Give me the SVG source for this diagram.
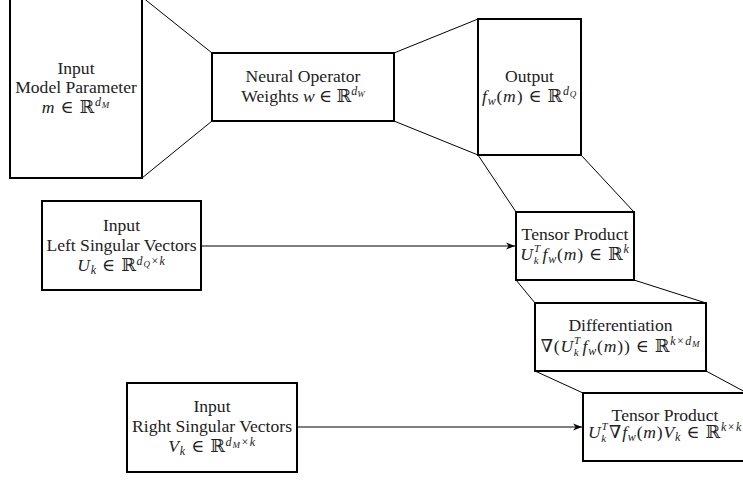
<svg xmlns="http://www.w3.org/2000/svg" width="743" height="481" viewBox="0 0 743 481" font-family="'Liberation Serif', 'DejaVu Serif', serif">
<defs>
<style>
.box{fill:#fff;stroke:#000;stroke-width:2}
.ln{stroke:#000;stroke-width:1;fill:none}
text{font-family:'Liberation Serif','DejaVu Serif',serif;font-size:17.6px;fill:#222;text-anchor:middle}
.m{letter-spacing:0.8px}
.i{font-style:italic}
.s1{font-size:12px;font-style:italic}
.s3{font-size:11px;font-style:italic}
.s2{font-size:9px;font-style:italic}
</style>
<marker id="arr" viewBox="0 0 10 10" refX="10" refY="5" markerWidth="9" markerHeight="9" markerUnits="userSpaceOnUse" orient="auto">
<path d="M0,1 L10,5 L0,9 L3,5 z" fill="#000"/>
</marker>
</defs>
<rect width="743" height="481" fill="#fff"/>
<g id="connectors">
<line class="ln" x1="142" y1="-3" x2="212" y2="53"/>
<line class="ln" x1="142" y1="178" x2="212" y2="121"/>
<line class="ln" x1="394" y1="53" x2="478" y2="19"/>
<line class="ln" x1="394" y1="121" x2="478" y2="155"/>
<line class="ln" x1="478" y1="155" x2="516" y2="212"/>
<line class="ln" x1="581" y1="155" x2="634" y2="212"/>
<line class="ln" x1="516" y1="280" x2="535" y2="303"/>
<line class="ln" x1="634" y1="280" x2="706" y2="303"/>
<line class="ln" x1="535" y1="371" x2="583" y2="393"/>
<line class="ln" x1="706" y1="371" x2="747" y2="393"/>
<line class="ln" x1="201" y1="246" x2="515" y2="246" marker-end="url(#arr)"/>
<line class="ln" x1="297" y1="427" x2="582" y2="427" marker-end="url(#arr)"/>
</g>
<g id="model-parameter">
<rect class="box" x="10" y="-3" width="132" height="181"/>
<text x="76" y="74">Input</text>
<text x="76" y="93">Model Parameter</text>
<text class="m" x="76" y="113"><tspan class="i">m</tspan> ∈ ℝ<tspan class="s1" dy="-7">d</tspan><tspan class="s2" dy="2">M</tspan></text>
</g>
<g id="neural-operator">
<rect class="box" x="212" y="53" width="182" height="68"/>
<text x="303" y="82">Neural Operator</text>
<text x="303" y="102">Weights <tspan class="i">w</tspan> ∈ ℝ<tspan class="s1" dy="-7">d</tspan><tspan class="s2" dy="2">W</tspan></text>
</g>
<g id="output">
<rect class="box" x="478" y="19" width="103" height="136"/>
<text x="529.5" y="82">Output</text>
<text class="m" x="529.5" y="102"><tspan class="i">f</tspan><tspan class="s1" dy="3">w</tspan><tspan dy="-3">(</tspan><tspan class="i">m</tspan>) ∈ ℝ<tspan class="s1" dy="-7">d</tspan><tspan class="s2" dy="2">Q</tspan></text>
</g>
<g id="left-singular">
<rect class="box" x="42" y="201" width="159" height="89"/>
<text x="121.5" y="231">Input</text>
<text x="121.5" y="251">Left Singular Vectors</text>
<text class="m" x="121.5" y="271"><tspan class="i">U</tspan><tspan class="s1" dy="3">k</tspan><tspan dy="-3"> ∈ ℝ</tspan><tspan class="s1" dy="-6">d</tspan><tspan class="s2" dy="2">Q</tspan><tspan class="s1" dy="-2">×</tspan><tspan class="s1">k</tspan></text>
</g>
<g id="tensor-product-1">
<rect class="box" x="516" y="212" width="118" height="68"/>
<text x="575" y="240">Tensor Product</text>
<text class="m" x="575" y="260"><tspan class="i">U</tspan><tspan class="s3" dy="-8">T</tspan><tspan class="s3" dx="-7" dy="12">k</tspan><tspan class="i" dx="3" dy="-4">f</tspan><tspan class="s1" dy="3">w</tspan><tspan dy="-3">(</tspan><tspan class="i">m</tspan>) ∈ ℝ<tspan class="s1" dy="-7">k</tspan></text>
</g>
<g id="differentiation">
<rect class="box" x="535" y="303" width="171" height="68"/>
<text x="620.5" y="331">Differentiation</text>
<text class="m" x="620.5" y="352">∇(<tspan class="i">U</tspan><tspan class="s3" dy="-8">T</tspan><tspan class="s3" dx="-7" dy="12">k</tspan><tspan class="i" dx="3" dy="-4">f</tspan><tspan class="s1" dy="3">w</tspan><tspan dy="-3">(</tspan><tspan class="i">m</tspan>)) ∈ ℝ<tspan class="s1" dy="-7">k</tspan><tspan class="s1">×</tspan><tspan class="s1">d</tspan><tspan class="s2" dy="2">M</tspan></text>
</g>
<g id="right-singular">
<rect class="box" x="127" y="383" width="170" height="89"/>
<text x="212" y="412">Input</text>
<text x="212" y="432">Right Singular Vectors</text>
<text class="m" x="212" y="452"><tspan class="i">V</tspan><tspan class="s1" dy="3">k</tspan><tspan dy="-3"> ∈ ℝ</tspan><tspan class="s1" dy="-6">d</tspan><tspan class="s2" dy="2">M</tspan><tspan class="s1" dy="-2">×</tspan><tspan class="s1">k</tspan></text>
</g>
<g id="tensor-product-2">
<rect class="box" x="583" y="393" width="164" height="68"/>
<text x="665" y="421">Tensor Product</text>
<text class="m" x="665" y="438"><tspan class="i">U</tspan><tspan class="s3" dy="-8">T</tspan><tspan class="s3" dx="-7" dy="12">k</tspan><tspan dx="2" dy="-4">∇</tspan><tspan class="i">f</tspan><tspan class="s1" dy="3">w</tspan><tspan dy="-3">(</tspan><tspan class="i">m</tspan>)<tspan class="i">V</tspan><tspan class="s1" dy="3">k</tspan><tspan dy="-3"> ∈ ℝ</tspan><tspan class="s1" dy="-7">k</tspan><tspan class="s1">×</tspan><tspan class="s1">k</tspan></text>
</g>
</svg>
